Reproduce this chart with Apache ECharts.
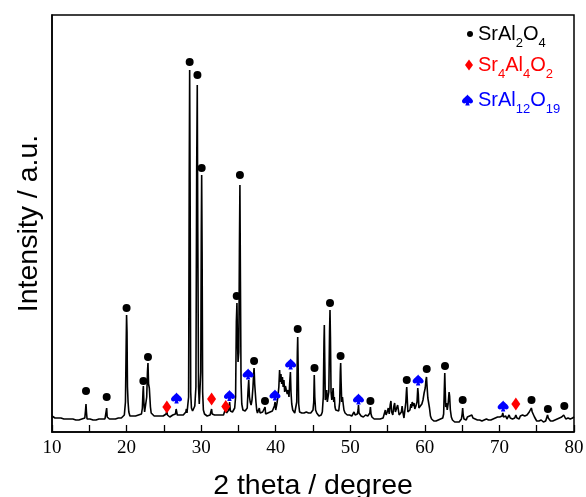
<!DOCTYPE html>
<html>
<head>
<meta charset="utf-8">
<script src="https://cdn.jsdelivr.net/npm/echarts@6/dist/echarts.min.js"></script>
<style>html,body{margin:0;padding:0;background:#fff}#c{width:586px;height:497px}</style>
</head>
<body>
<div id="c"></div>
<script>
// XRD pattern, [2theta, intensity]
const pattern10to20 = [[10.0,16],[10.2,14],[10.4,14],[10.6,13],[10.8,14],[11.0,13],[11.2,14],[11.4,13],[11.6,13],[11.8,14],[12.0,13],[12.2,12],[12.4,13],[12.6,12],[12.8,13],[13.0,12],[13.2,12],[13.4,13],[13.6,12],[13.8,12],[14.0,13],[14.2,12],[14.4,14],[14.5,22],[14.56,28],[14.62,20],[14.7,13],[14.9,12],[15.1,13],[15.3,12],[15.5,12],[15.7,13],[15.9,12],[16.1,12],[16.3,13],[16.5,12],[16.7,13],[16.9,12],[17.1,13],[17.25,15],[17.33,24],[17.4,15],[17.5,13],[17.7,13],[17.9,14],[18.1,13],[18.3,14],[18.5,13],[18.7,14],[18.9,14],[19.1,15],[19.3,14],[19.5,15],[19.7,17],[19.85,30],[19.95,90],[20.0,117],[20.06,100],[20.12,45],[20.2,30],[20.3,20],[20.45,16]];
const pattern20to30 = [[20.6,15],[20.8,16],[21.0,15],[21.2,16],[21.4,15],[21.6,17],[21.8,16],[22.0,18],[22.12,24],[22.2,40],[22.25,46],[22.32,30],[22.42,20],[22.55,22],[22.7,35],[22.8,60],[22.87,69],[22.95,48],[23.05,44],[23.12,45],[23.2,25],[23.3,19],[23.5,17],[23.7,16],[23.9,17],[24.1,16],[24.3,15],[24.5,16],[24.7,15],[24.9,16],[25.1,16],[25.3,18],[25.4,21],[25.48,17],[25.6,16],[25.8,15],[26.0,16],[26.2,17],[26.4,16],[26.55,18],[26.65,23],[26.72,24],[26.8,17],[27.0,16],[27.2,17],[27.4,18],[27.6,17],[27.8,18],[27.95,20],[28.02,23],[28.1,19],[28.2,20],[28.32,35],[28.4,250],[28.46,362],[28.52,250],[28.6,40],[28.7,24],[28.85,21],[29.0,22],[29.15,26],[29.3,45],[29.4,260],[29.48,347],[29.55,200],[29.65,45],[29.75,28],[29.85,30],[29.95,60],[30.02,200],[30.07,257],[30.13,180],[30.2,40],[30.3,22],[30.45,18]];
const pattern30to42 = [[30.6,17],[30.8,16],[31.0,17],[31.2,17],[31.32,19],[31.4,23],[31.48,18],[31.6,16],[31.8,17],[32.0,16],[32.2,17],[32.4,16],[32.6,17],[32.8,18],[33.0,17],[33.15,19],[33.3,24],[33.4,19],[33.55,21],[33.7,22],[33.82,30],[33.92,21],[34.05,19],[34.2,20],[34.35,22],[34.5,24],[34.62,35],[34.72,110],[34.8,129],[34.88,90],[34.95,70],[35.05,80],[35.13,180],[35.2,247],[35.27,150],[35.35,50],[35.45,28],[35.6,22],[35.75,20],[35.9,21],[36.05,19],[36.18,24],[36.28,40],[36.38,52],[36.48,35],[36.58,30],[36.7,27],[36.82,32],[36.95,45],[37.05,60],[37.1,64],[37.18,48],[37.26,49],[37.35,30],[37.45,22],[37.55,19],[37.68,21],[37.8,24],[37.9,19],[38.0,17],[38.12,18],[38.25,20],[38.38,18],[38.5,19],[38.57,25],[38.65,18],[38.8,17],[38.95,19],[39.1,18],[39.25,20],[39.4,19],[39.55,21],[39.7,23],[39.82,26],[39.92,30],[40.0,22],[40.1,24],[40.2,30],[40.3,36],[40.42,45],[40.52,62],[40.6,50],[40.7,58],[40.8,48],[40.9,55],[41.0,45],[41.1,52],[41.2,40],[41.3,46],[41.42,42],[41.55,38],[41.65,42],[41.78,35],[41.88,50],[41.97,60],[42.05,40],[42.15,28],[42.28,22],[42.4,20]];
const pattern42to53 = [[42.55,19],[42.7,21],[42.82,30],[42.9,80],[42.95,95],[43.0,70],[43.08,28],[43.2,20],[43.35,18],[43.5,19],[43.65,17],[43.8,19],[43.95,18],[44.1,20],[44.25,18],[44.4,19],[44.55,21],[44.7,19],[44.85,20],[45.0,22],[45.1,30],[45.17,57],[45.24,35],[45.35,22],[45.5,19],[45.65,17],[45.8,16],[45.95,18],[46.1,17],[46.25,20],[46.38,35],[46.47,90],[46.52,107],[46.58,70],[46.65,32],[46.75,36],[46.84,42],[46.92,30],[47.02,28],[47.12,40],[47.22,100],[47.28,122],[47.34,95],[47.42,40],[47.52,32],[47.62,38],[47.7,44],[47.78,30],[47.86,35],[47.95,25],[48.05,22],[48.15,21],[48.3,20],[48.45,21],[48.58,30],[48.66,60],[48.71,69],[48.77,50],[48.85,30],[48.95,35],[49.05,28],[49.15,22],[49.3,19],[49.45,18],[49.6,17],[49.75,19],[49.9,17],[50.05,18],[50.2,16],[50.35,18],[50.5,20],[50.65,17],[50.8,19],[50.95,18],[51.05,22],[51.1,27],[51.17,19],[51.3,17],[51.45,16],[51.6,17],[51.75,15],[51.9,16],[52.05,17],[52.2,15],[52.35,16],[52.5,17],[52.62,19],[52.7,25],[52.78,18],[52.9,15],[53.05,14]];
const pattern53to66 = [[53.2,13],[53.4,14],[53.6,13],[53.8,14],[54.0,13],[54.2,15],[54.4,14],[54.55,18],[54.7,22],[54.8,17],[54.95,20],[55.1,24],[55.22,18],[55.35,27],[55.45,31],[55.55,20],[55.7,17],[55.85,26],[55.95,29],[56.05,20],[56.2,18],[56.35,27],[56.45,28],[56.55,17],[56.7,15],[56.85,20],[56.95,26],[57.05,20],[57.2,14],[57.35,16],[57.45,30],[57.52,40],[57.57,45],[57.63,35],[57.72,20],[57.85,18],[58.0,22],[58.12,28],[58.2,24],[58.3,30],[58.42,26],[58.55,29],[58.65,23],[58.8,26],[58.95,30],[59.05,44],[59.12,38],[59.2,24],[59.32,26],[59.45,22],[59.6,28],[59.75,32],[59.9,39],[60.05,44],[60.15,52],[60.22,55],[60.3,45],[60.4,34],[60.52,32],[60.62,24],[60.75,16],[60.9,13],[61.05,12],[61.2,11],[61.35,12],[61.5,11],[61.65,13],[61.8,12],[61.95,11],[62.1,13],[62.25,12],[62.4,14],[62.52,18],[62.6,40],[62.67,59],[62.72,45],[62.8,25],[62.9,29],[63.0,22],[63.12,28],[63.25,40],[63.32,36],[63.42,22],[63.55,15],[63.7,12],[63.85,11],[64.0,10],[64.15,11],[64.3,10],[64.45,11],[64.6,10],[64.75,12],[64.9,13],[65.0,18],[65.07,24],[65.14,17],[65.25,13],[65.4,14],[65.55,12]];
const pattern66to80 = [[65.7,15],[65.85,13],[66.0,16],[66.15,14],[66.3,17],[66.45,14],[66.6,16],[66.75,13],[66.9,15],[67.05,12],[67.2,14],[67.35,12],[67.5,13],[67.65,11],[67.8,13],[67.95,12],[68.1,11],[68.25,13],[68.4,11],[68.55,12],[68.7,10],[68.85,12],[69.0,11],[69.15,13],[69.3,12],[69.45,14],[69.6,13],[69.75,15],[69.9,13],[70.05,15],[70.2,14],[70.35,16],[70.45,19],[70.55,15],[70.7,14],[70.85,16],[71.0,13],[71.15,15],[71.3,17],[71.45,14],[71.6,16],[71.75,13],[71.9,15],[72.05,14],[72.2,17],[72.35,14],[72.5,15],[72.65,13],[72.8,16],[72.95,14],[73.1,17],[73.25,15],[73.4,16],[73.55,14],[73.7,17],[73.85,19],[74.0,20],[74.15,22],[74.28,24],[74.4,20],[74.55,18],[74.7,15],[74.85,13],[75.0,11],[75.15,10],[75.3,11],[75.45,10],[75.6,12],[75.75,11],[75.9,10],[76.05,12],[76.2,11],[76.35,13],[76.45,17],[76.55,14],[76.7,12],[76.85,11],[77.0,10],[77.15,11],[77.3,10],[77.45,12],[77.6,11],[77.75,13],[77.9,12],[78.05,14],[78.2,12],[78.35,15],[78.5,14],[78.62,17],[78.7,19],[78.78,15],[78.9,13],[79.05,15],[79.2,14],[79.35,16],[79.5,13],[79.65,15],[79.8,14],[80.0,15]];

// Phase markers [2theta, marker height]
const srAl2O4Marks = [[14.56,41],[17.33,35],[20.0,124],[22.25,51],[22.87,75],[28.46,370],[29.5,357],[30.07,264],[34.77,136],[35.2,257],[37.1,71],[38.56,31],[42.95,103],[45.2,64],[47.28,129],[48.7,76],[52.7,31],[57.57,52],[60.25,63],[62.7,66],[65.07,32],[74.3,32],[76.5,23],[78.7,26]];
const sr4Al4O2Marks = [[25.4,25],[31.4,33],[33.3,25.5],[72.2,28]];
const srAl12O19Marks = [[26.7,34],[33.8,36.5],[36.3,58],[39.9,37],[42.0,68],[51.1,33],[59.1,52],[70.5,26]];

const xTickLabels = [10,20,30,40,50,60,70,80];
const phaseNames = ['SrAl2O4','Sr4Al4O2','SrAl12O19'];
const phaseLabels = ['{m|SrAl}{s|2}{m|O}{s|4}','{m|Sr}{s|4}{m|Al}{s|4}{m|O}{s|2}','{m|SrAl}{s|12}{m|O}{s|19}'];
const phaseColors = ['#000000','#ff0000','#0000ff'];

const xrd = [].concat(pattern10to20, pattern20to30, pattern30to42, pattern42to53, pattern53to66, pattern66to80);
const spade = 'path://M50,0 C58,18 100,38 100,62 C100,80 80,88 62,76 L70,100 L30,100 L38,76 C20,88 0,80 0,62 C0,38 42,18 50,0 Z';

function richFor(color){
  return {
    m:{fontSize:20,fontFamily:'Liberation Sans',color:color,height:24,verticalAlign:'top'},
    s:{fontSize:13,fontFamily:'Liberation Sans',color:color,height:5,verticalAlign:'bottom'}
  };
}
const legendIcons = ['circle','diamond',spade];
const legendSizes = [[6,6],[8,11],[11,11]];
const legendTops = [24,55,90];
const legends = phaseNames.map((n,i)=>({
  data:[{name:n,icon:legendIcons[i]}],
  orient:'vertical', left:478-5-legendSizes[i][0], top:legendTops[i], padding:0,
  itemWidth:legendSizes[i][0], itemHeight:legendSizes[i][1],
  itemStyle:{color:phaseColors[i],opacity:1},
  formatter:()=>phaseLabels[i],
  textStyle:{rich:richFor(phaseColors[i])},
  selectedMode:false
}));

const chart = echarts.init(document.getElementById('c'));
chart.setOption({
  animation:false,
  backgroundColor:'#fff',
  grid:{left:52,top:15,right:12,bottom:65,containLabel:false,outerBoundsMode:'none',
        show:true,borderColor:'#000',borderWidth:1.5},
  legend:legends,
  xAxis:{type:'value',min:10,max:80,interval:5,
    name:'2 theta / degree',nameLocation:'middle',nameGap:40,
    nameTextStyle:{fontSize:28.5,fontFamily:'Liberation Sans',color:'#000'},
    axisLine:{lineStyle:{color:'#000',width:1.5}},
    axisTick:{inside:true,length:7,lineStyle:{color:'#000',width:1.3}},
    axisLabel:{margin:7,fontSize:19,fontFamily:'Liberation Serif',color:'#000',
      formatter:v=>xTickLabels.indexOf(v)>=0?String(v):''},
    splitLine:{show:false}},
  yAxis:{type:'value',min:0,max:417,
    name:'Intensity / a.u.',nameLocation:'middle',nameGap:8,
    nameTextStyle:{fontSize:28.5,fontFamily:'Liberation Sans',color:'#000'},
    axisLine:{show:true,lineStyle:{color:'#000',width:1.5}},
    axisTick:{show:false},axisLabel:{show:false},splitLine:{show:false}},
  series:[
    {type:'line',name:'XRD',data:xrd,showSymbol:false,symbol:'none',
     lineStyle:{color:'#000',width:1.6},z:2},
    {type:'scatter',name:phaseNames[0],data:srAl2O4Marks,symbol:'circle',symbolSize:8,itemStyle:{color:phaseColors[0],opacity:1},z:3},
    {type:'scatter',name:phaseNames[1],data:sr4Al4O2Marks,symbol:'diamond',symbolSize:[9,13],itemStyle:{color:phaseColors[1],opacity:1},z:3},
    {type:'scatter',name:phaseNames[2],data:srAl12O19Marks,symbol:spade,symbolSize:[11,11],itemStyle:{color:phaseColors[2],opacity:1},z:3}
  ]
});
</script>
</body>
</html>
